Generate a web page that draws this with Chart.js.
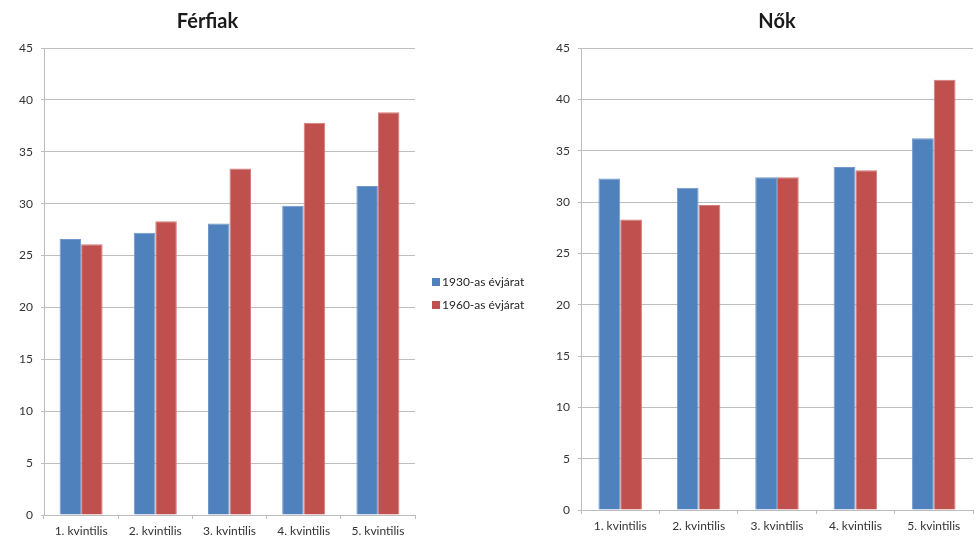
<!DOCTYPE html>
<html lang="hu">
<head>
<meta charset="utf-8">
<title>Férfiak és nők kvintilisek szerint</title>
<script src="https://cdn.jsdelivr.net/npm/chart.js@4.4.1/dist/chart.umd.min.js"></script>
<style>
  html, body { margin: 0; padding: 0; background: #ffffff; }
  body { width: 977px; height: 539px; position: relative; overflow: hidden; font-family: Lato, "Open Sans", sans-serif; }
  .panel { position: absolute; top: 0; }
  #legend { position: absolute; left: 432px; top: 274px; font: 12px Lato, sans-serif; color: #262626; }
  #legend .item { height: 15px; line-height: 15px; margin-bottom: 8px; white-space: nowrap; }
  #legend .swatch { display: inline-block; width: 8px; height: 8px; margin-right: 2px; vertical-align: 0px; }
</style>
</head>
<body>
<div class="panel" style="left:0; width:448px; height:539px;"><canvas id="men" width="448" height="539"></canvas></div>
<div class="panel" style="left:540px; width:437px; height:539px;"><canvas id="women" width="437" height="539"></canvas></div>
<div id="legend"></div>

<script>
// Quintile categories and series
const categories = ['1. kvintilis', '2. kvintilis', '3. kvintilis', '4. kvintilis', '5. kvintilis'];
const seriesNames = ['1930-as évjárat', '1960-as évjárat'];
const seriesColors = ['#4F81BD', '#C0504D'];
const seriesEdges = ['#7197cb', '#d27d7a'];

// Férfiak
const men1930 = [26.6, 27.2, 28.1, 29.8, 31.7];
const men1960 = [26.1, 28.3, 33.4, 37.8, 38.8];

// Nők
const women1930 = [32.3, 31.4, 32.4, 33.4, 36.2];
const women1960 = [28.3, 29.7, 32.4, 33.1, 41.9];

// Value axis
const yMin = 0, yMax = 45, yStep = 5;

const textColor = '#333333';
const gridColor = '#bdbdbd';

function datasets(a, b) {
  return [a, b].map((values, i) => ({
    label: seriesNames[i],
    data: values,
    backgroundColor: seriesColors[i],
    borderColor: seriesEdges[i],
    borderWidth: { top: 1, left: 1, right: 1, bottom: 0 },
    barPercentage: 1.0
  }));
}

function makeChart(id, title, a, b, cfg) {
  return new Chart(document.getElementById(id), {
    type: 'bar',
    data: { labels: categories, datasets: datasets(a, b) },
    options: {
      responsive: false,
      animation: false,
      devicePixelRatio: 1,
      categoryPercentage: cfg.catPct,
      layout: { padding: { left: 0, right: cfg.padRight, top: 0, bottom: 0 } },
      plugins: {
        legend: { display: false },
        tooltip: { enabled: false },
        title: {
          display: true,
          text: title,
          fullSize: cfg.titleFull,
          color: '#1a1a1a',
          font: { family: 'Lato', size: 20, weight: 'bold', lineHeight: 1.2 },
          padding: { top: 10, bottom: 14 }
        }
      },
      scales: {
        x: {
          offset: true,
          grid: { display: true, drawOnChartArea: false, drawTicks: true, tickLength: 4, color: gridColor, offset: true },
          border: { display: true, color: gridColor, width: 1 },
          ticks: { color: textColor, font: { family: 'Lato', size: 12 }, padding: cfg.xPad, maxRotation: 0, autoSkip: false },
          afterFit: s => { s.height = cfg.xHeight; }
        },
        y: {
          min: yMin, max: yMax,
          grid: { color: gridColor, lineWidth: 1, drawTicks: true, tickLength: 3 },
          border: { display: true, color: gridColor, width: 1 },
          ticks: { stepSize: yStep, color: textColor, font: { family: 'Lato', size: 12 }, padding: 8 },
          afterFit: s => { s.width = cfg.yWidth; }
        }
      }
    }
  });
}

makeChart('men', 'Férfiak', men1930, men1960,
  { catPct: 0.58, padRight: 33, titleFull: true, xHeight: 24, yWidth: 44, xPad: 5 });
makeChart('women', 'Nők', women1930, women1960,
  { catPct: 0.555, padRight: 4, titleFull: false, xHeight: 29, yWidth: 41, xPad: 5 });

// Shared legend for both panels
const legend = document.getElementById('legend');
seriesNames.forEach((name, i) => {
  const item = document.createElement('div');
  item.className = 'item';
  const sw = document.createElement('span');
  sw.className = 'swatch';
  sw.style.background = seriesColors[i];
  item.appendChild(sw);
  item.appendChild(document.createTextNode(name));
  legend.appendChild(item);
});
</script>
</body>
</html>
